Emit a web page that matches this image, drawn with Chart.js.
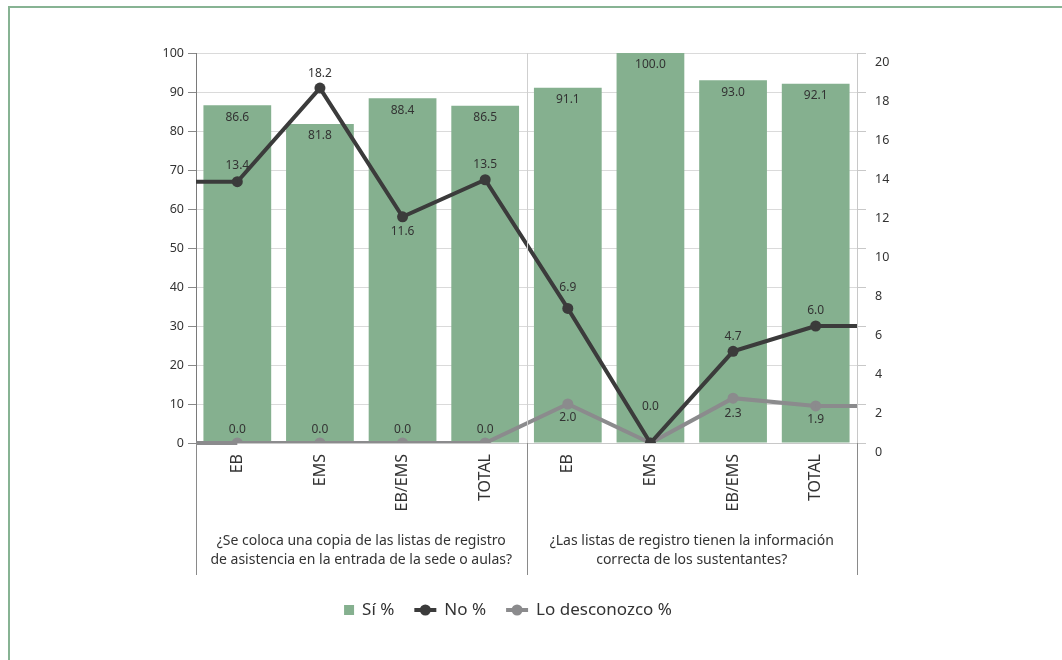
<!DOCTYPE html>
<html>
<head>
<meta charset="utf-8">
<script src="https://cdn.jsdelivr.net/npm/chart.js@4"></script>
<style>
  html, body { margin: 0; padding: 0; background: #fff; overflow: hidden; }
  #frame { position: absolute; left: 8px; top: 6px; width: 1100px; height: 700px; border: 2px solid #87b393; }
  #wrap { position: absolute; left: 0; top: 0; width: 1062px; height: 660px; }
</style>
</head>
<body>
<div id="frame"></div>
<div id="wrap"><canvas id="chart"></canvas></div>
<script>
//--- Data ---//
const categories = ['EB', 'EMS', 'EB/EMS', 'TOTAL', 'EB', 'EMS', 'EB/EMS', 'TOTAL'];
const groups = [
    ['¿Se coloca una copia de las listas de registro', 'de asistencia en la entrada de la sede o aulas?'],
    ['¿Las listas de registro tienen la información', 'correcta de los sustentantes?']
];
const groupSize = 4;
const siValues = [86.6, 81.8, 88.4, 86.5, 91.1, 100.0, 93.0, 92.1];
const noValues = [13.4, 18.2, 11.6, 13.5, 6.9, 0.0, 4.7, 6.0];
const loValues = [0.0, 0.0, 0.0, 0.0, 2.0, 0.0, 2.3, 1.9];
//-------------//

// label offsets (px, negative = above the point), null = no label
const noLabelShift = [-16, -15, 15, -15, -21, -36, -15, -15];
const loLabelShift = [-13, -13, -13, -13, 14, null, 15, 14];

const textColor = '#333';
const green = '#85b08f';
const dark = '#3b3b3b';
const gray = '#8b8b8d';
Chart.defaults.font.family = "'Noto Sans', sans-serif";
Chart.defaults.color = textColor;

//--- Plugin: line ends, labels, groups, legend ---//
const extras = {
    id: 'extras',
    afterDatasetDraw(chart, args) {
        const ds = chart.data.datasets[args.index];
        if (ds.type !== 'line') return;
        const pts = args.meta.data;
        const area = chart.chartArea;
        const ctx = chart.ctx;
        const last = pts[pts.length - 1];
        ctx.save();
        ctx.strokeStyle = ds.borderColor;
        ctx.lineWidth = ds.borderWidth;
        ctx.beginPath();
        ctx.moveTo(area.left, pts[0].y);
        ctx.lineTo(pts[0].x, pts[0].y);
        ctx.moveTo(last.x, last.y);
        ctx.lineTo(area.right, last.y);
        ctx.stroke();
        ctx.restore();
    },
    afterDatasetsDraw(chart) {
        const ctx = chart.ctx;
        ctx.save();
        ctx.fillStyle = textColor;
        ctx.font = "12px 'Noto Sans', sans-serif";
        ctx.textAlign = 'center';
        ctx.textBaseline = 'middle';
        chart.data.datasets.forEach((ds, i) => {
            const meta = chart.getDatasetMeta(i);
            meta.data.forEach((el, j) => {
                const txt = ds.data[j].toFixed(1);
                if (ds.type === 'bar') {
                    ctx.fillText(txt, el.x, el.y + 12);
                } else {
                    const shift = ds.labelShift[j];
                    if (shift === null) return;
                    ctx.fillText(txt, el.x, el.y + shift);
                }
            });
        });
        ctx.restore();
    },
    afterDraw(chart) {
        const ctx = chart.ctx;
        const area = chart.chartArea;
        const x = chart.scales.x;
        const bottom = 575;
        ctx.save();
        // separators
        const seps = [area.left];
        for (let g = 1; g < groups.length; g++) {
            seps.push((x.getPixelForValue(g * groupSize - 1) + x.getPixelForValue(g * groupSize)) / 2);
        }
        seps.push(area.right);
        seps.forEach((sx, k) => {
            ctx.strokeStyle = '#cfcfcf';
            ctx.lineWidth = 1;
            if (k > 0 && k < seps.length - 1) {
                ctx.beginPath();
                ctx.moveTo(Math.round(sx) + 0.5, area.top);
                ctx.lineTo(Math.round(sx) + 0.5, area.bottom);
                ctx.stroke();
            }
            ctx.strokeStyle = '#8a8a8a';
            ctx.beginPath();
            ctx.moveTo(Math.round(sx) + 0.5, area.bottom);
            ctx.lineTo(Math.round(sx) + 0.5, bottom);
            ctx.stroke();
        });
        // group labels
        ctx.fillStyle = textColor;
        ctx.font = "14px 'Noto Sans', sans-serif";
        ctx.textAlign = 'center';
        ctx.textBaseline = 'middle';
        groups.forEach((lines, g) => {
            const cx = (seps[g] + seps[g + 1]) / 2;
            lines.forEach((line, l) => ctx.fillText(line, cx, 541 + l * 19));
        });
        // legend
        const ly = 610;
        ctx.font = "17px 'Noto Sans', sans-serif";
        ctx.textAlign = 'left';
        const items = chart.data.datasets;
        const order = [items[2], items[0], items[1]];
        const widths = order.map(ds => (ds.type === 'bar' ? 10 : 22) + 8 + ctx.measureText(ds.label).width);
        const total = widths.reduce((a, b) => a + b, 0) + 20 * (order.length - 1);
        let lx = 508 - total / 2;
        order.forEach(ds => {
            if (ds.type === 'bar') {
                ctx.fillStyle = ds.backgroundColor;
                ctx.fillRect(lx, ly - 5, 10, 10);
                lx += 10;
            } else {
                ctx.strokeStyle = ds.borderColor;
                ctx.lineWidth = 4;
                ctx.beginPath();
                ctx.moveTo(lx, ly);
                ctx.lineTo(lx + 22, ly);
                ctx.stroke();
                ctx.fillStyle = ds.borderColor;
                ctx.beginPath();
                ctx.arc(lx + 11, ly, 5.5, 0, Math.PI * 2);
                ctx.fill();
                lx += 22;
            }
            lx += 8;
            ctx.fillStyle = textColor;
            ctx.fillText(ds.label, lx, ly);
            lx += ctx.measureText(ds.label).width + 20;
        });
        ctx.restore();
    }
};

new Chart(document.getElementById('chart'), {
    data: {
        labels: categories,
        datasets: [
            {
                type: 'line',
                label: 'No %',
                data: noValues,
                yAxisID: 'y1',
                borderColor: dark,
                backgroundColor: dark,
                borderWidth: 4,
                pointRadius: 5.5,
                pointHoverRadius: 5.5,
                pointBorderWidth: 0,
                tension: 0,
                order: 0,
                labelShift: noLabelShift
            },
            {
                type: 'line',
                label: 'Lo desconozco %',
                data: loValues,
                yAxisID: 'y1',
                borderColor: gray,
                backgroundColor: gray,
                borderWidth: 4,
                pointRadius: 5.5,
                pointHoverRadius: 5.5,
                pointBorderWidth: 0,
                tension: 0,
                order: 1,
                labelShift: loLabelShift
            },
            {
                type: 'bar',
                label: 'Sí %',
                data: siValues,
                yAxisID: 'y',
                backgroundColor: green,
                categoryPercentage: 1,
                barPercentage: 0.82,
                order: 2
            }
        ]
    },
    options: {
        responsive: true,
        maintainAspectRatio: false,
        animation: false,
        layout: { padding: { left: 150, right: 145, top: 53, bottom: 0 } },
        plugins: { legend: { display: false }, tooltip: { enabled: false } },
        scales: {
            x: {
                type: 'category',
                offset: true,
                grid: { display: false, drawTicks: false },
                border: { display: true, color: '#c8c8c8' },
                ticks: {
                    autoSkip: false,
                    minRotation: 90,
                    maxRotation: 90,
                    padding: 11,
                    font: { size: 16 },
                    color: textColor
                },
                afterFit(scale) { scale.height = 217; }
            },
            y: {
                position: 'left',
                min: 0,
                max: 100,
                ticks: { stepSize: 10, padding: 4, font: { size: 12.5 }, color: textColor },
                grid: { color: '#dadada', tickColor: '#8a8a8a', tickLength: 8 },
                border: { color: '#7a7a7a' },
                afterFit(scale) { scale.width = 46; }
            },
            y1: {
                position: 'right',
                min: 0,
                max: 20,
                ticks: { stepSize: 2, padding: 9, labelOffset: 9, font: { size: 12.5 }, color: textColor },
                grid: { drawOnChartArea: false, color: '#c8c8c8', tickLength: 9 },
                border: { color: '#c8c8c8' },
                afterFit(scale) { scale.width = 60; }
            }
        }
    },
    plugins: [extras]
});
</script>
</body>
</html>
